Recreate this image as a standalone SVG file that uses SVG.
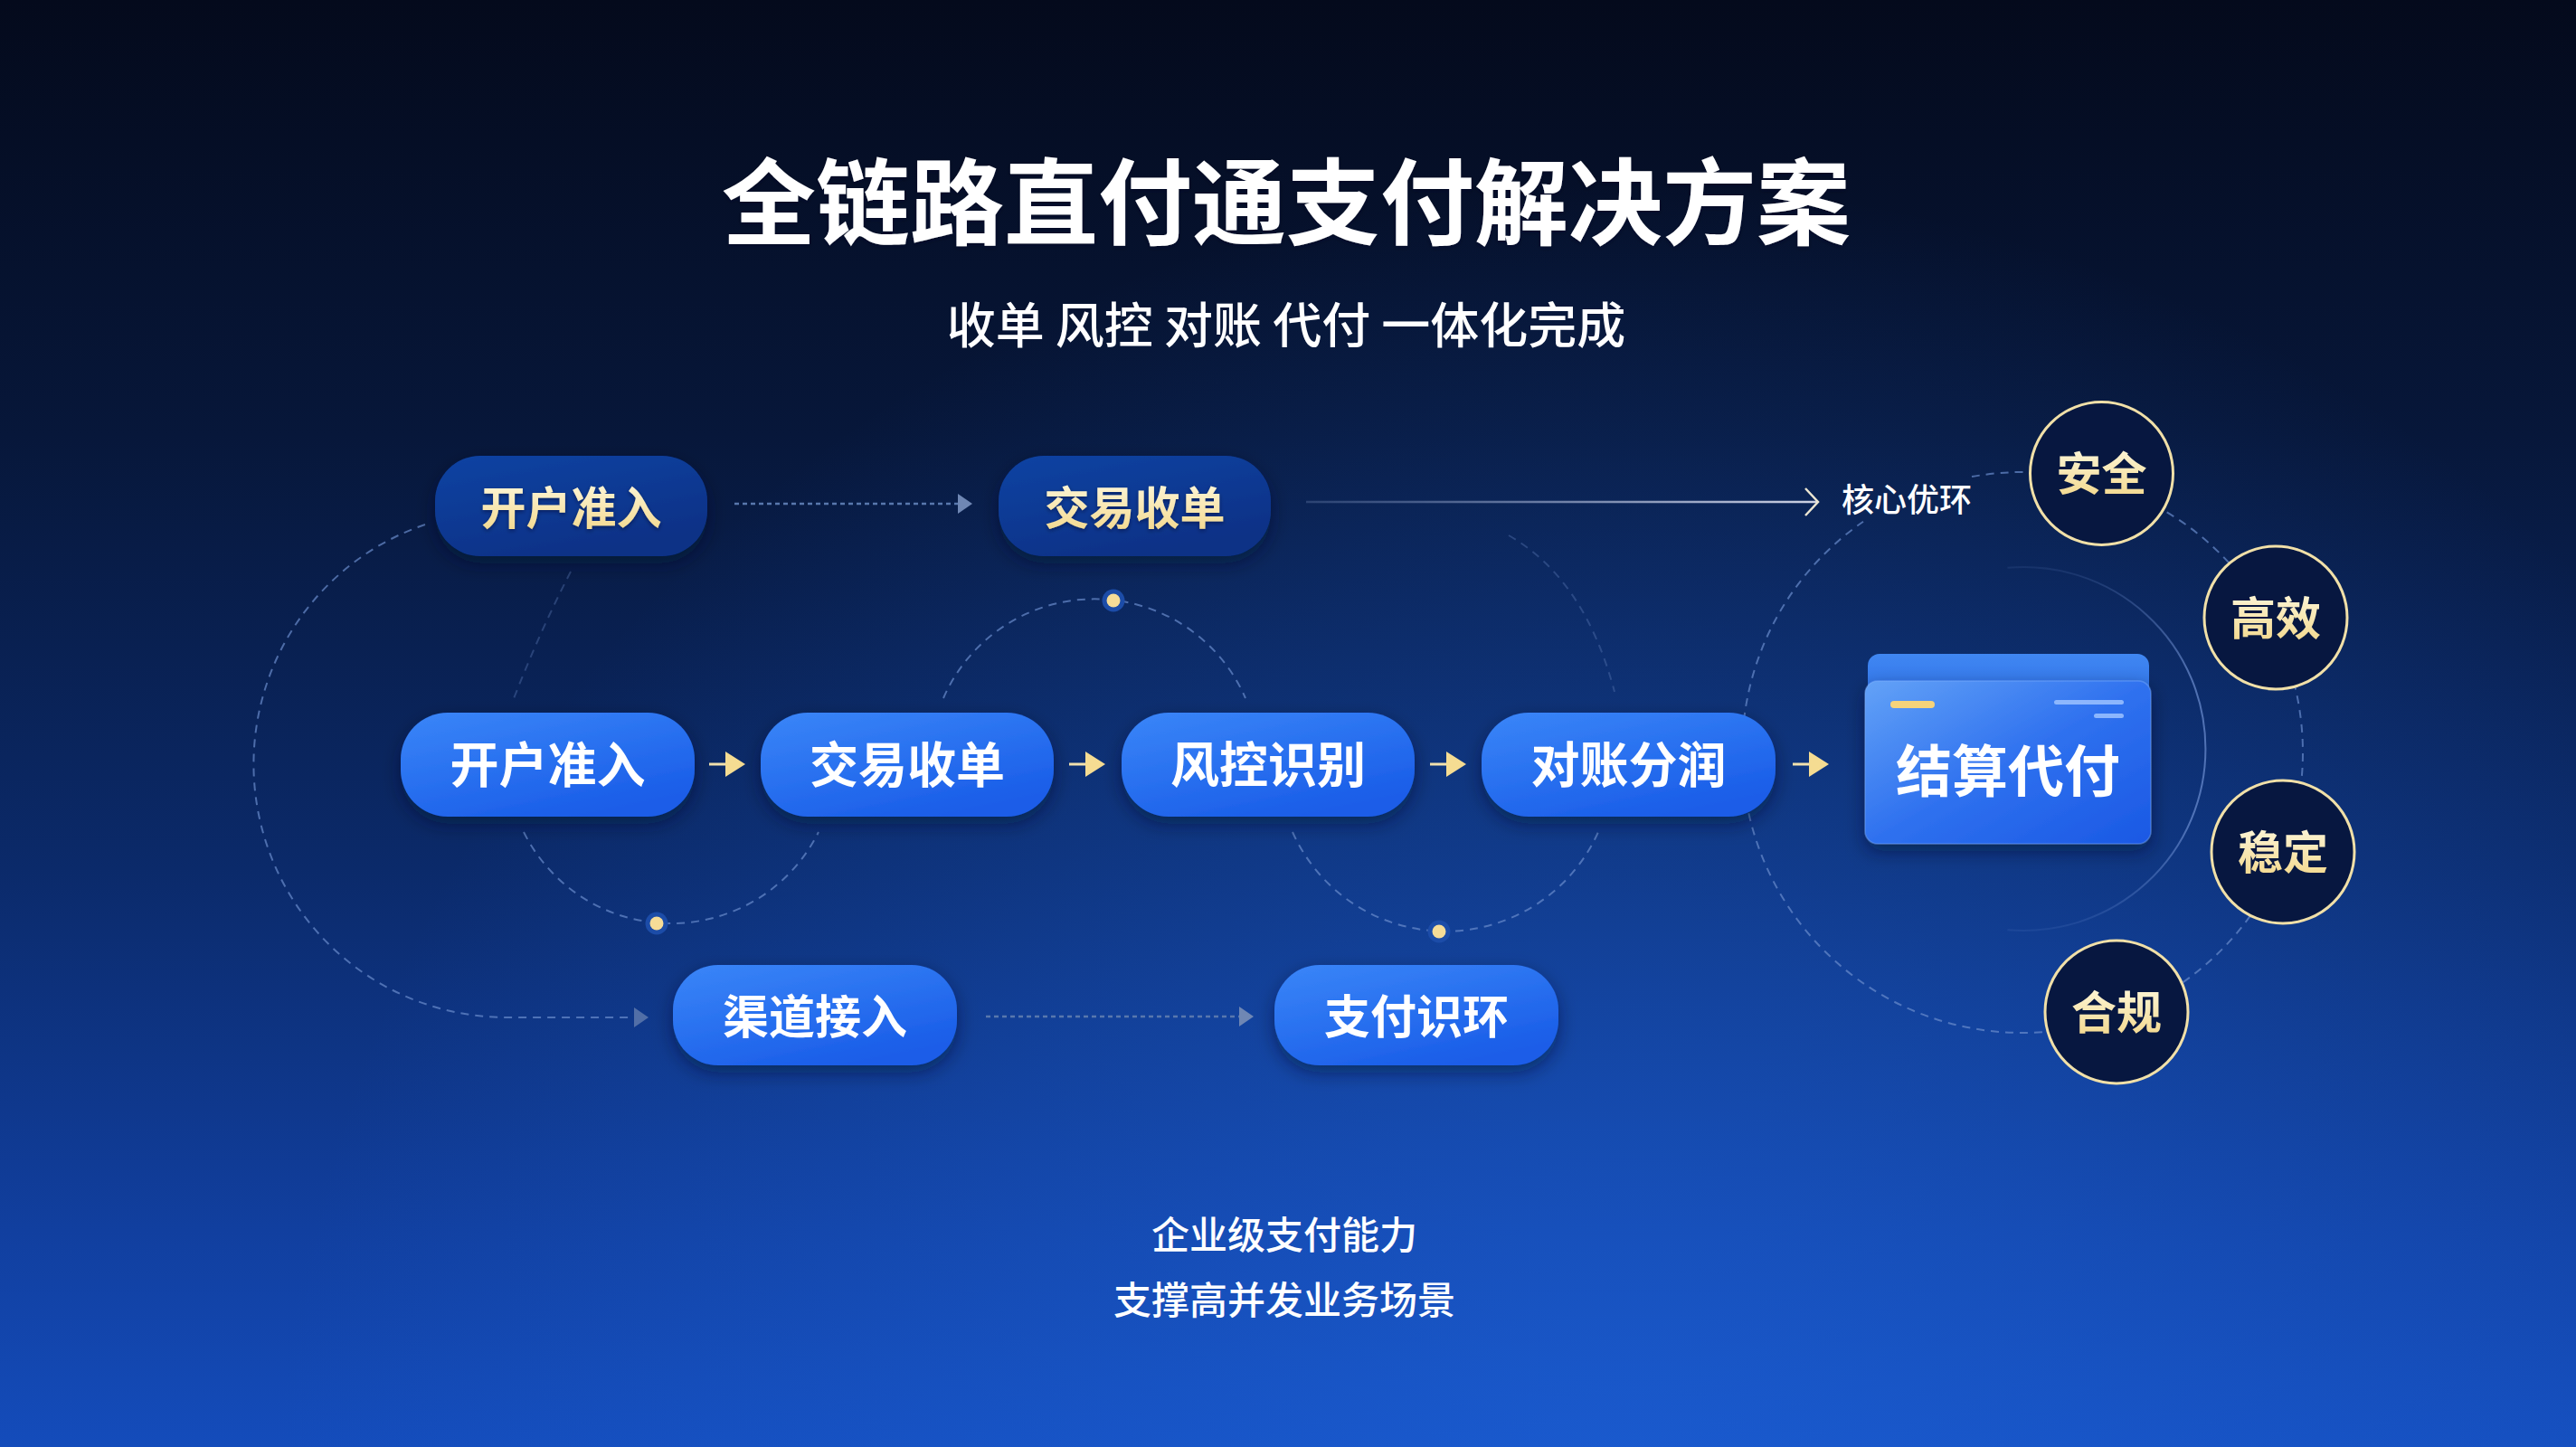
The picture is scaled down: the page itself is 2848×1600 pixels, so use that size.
<svg xmlns="http://www.w3.org/2000/svg" width="2848" height="1600" viewBox="0 0 2848 1600">
<defs>
<style>
.t{font-family:"Noto Sans CJK SC","Noto Sans","DejaVu Sans",sans-serif;text-anchor:middle}
.b{font-weight:700}
.m{font-weight:500}
.white{fill:#ffffff}
.cream{fill:url(#creamText)}
.pill-blue{fill:url(#gBlue);filter:url(#sh)}
.pill-dark{fill:url(#gDark);filter:url(#sh)}
.badge{fill:#071740;stroke:#f1e0a8;stroke-width:3}
.dash{fill:none;stroke:#6a8ccc;stroke-width:2;stroke-dasharray:9 7;opacity:.7}
.faint{fill:none;stroke:#5a78b4;stroke-width:2;stroke-dasharray:9 7;opacity:.4}
.dotl{fill:none;stroke:#5877ad;stroke-width:2.5;stroke-dasharray:5 4}
.gold{stroke:#f2e2ae;stroke-width:3;fill:none}
.dring{fill:#1c4ca8}
.dcore{fill:#f6dc97}
</style>
<linearGradient id="bg" x1="0" y1="0" x2="0" y2="1">
<stop offset="0" stop-color="#040a1c"/>
<stop offset="0.3" stop-color="#07173a"/>
<stop offset="0.6" stop-color="#0b2a6a"/>
<stop offset="0.85" stop-color="#113f9f"/>
<stop offset="1" stop-color="#144cbb"/>
</linearGradient>
<radialGradient id="bgGlow" gradientUnits="userSpaceOnUse" cx="1800" cy="1700" r="1500">
<stop offset="0" stop-color="#1e64dc" stop-opacity="0.6"/>
<stop offset="1" stop-color="#1e64dc" stop-opacity="0"/>
</radialGradient>
<linearGradient id="gBlue" x1="0" y1="0" x2="0.6" y2="1">
<stop offset="0" stop-color="#3a86f8"/>
<stop offset="1" stop-color="#1a5de8"/>
</linearGradient>
<linearGradient id="gDark" x1="0" y1="0" x2="0.5" y2="1">
<stop offset="0" stop-color="#0f43a3"/>
<stop offset="1" stop-color="#0a3186"/>
</linearGradient>
<linearGradient id="cardFront" x1="0" y1="0" x2="1" y2="1">
<stop offset="0" stop-color="#63a2f7"/>
<stop offset="0.5" stop-color="#2f71ef"/>
<stop offset="1" stop-color="#1a58e4"/>
</linearGradient>
<linearGradient id="cardBack" x1="0" y1="0" x2="0" y2="1">
<stop offset="0" stop-color="#4087f2"/>
<stop offset="1" stop-color="#1f5de0"/>
</linearGradient>
<linearGradient id="creamText" x1="0" y1="0" x2="0" y2="1">
<stop offset="0" stop-color="#fffbe6"/>
<stop offset="1" stop-color="#f2d687"/>
</linearGradient>
<linearGradient id="lineFade" gradientUnits="userSpaceOnUse" x1="1444" y1="0" x2="2010" y2="0">
<stop offset="0" stop-color="#8fa3cf" stop-opacity="0.25"/>
<stop offset="1" stop-color="#d9dcec" stop-opacity="0.95"/>
</linearGradient>
<linearGradient id="solidArc" gradientUnits="userSpaceOnUse" x1="0" y1="626" x2="0" y2="1030">
<stop offset="0" stop-color="#7d9ee0" stop-opacity="0.1"/>
<stop offset="0.3" stop-color="#7d9ee0" stop-opacity="0.6"/>
<stop offset="0.7" stop-color="#7d9ee0" stop-opacity="0.6"/>
<stop offset="1" stop-color="#7d9ee0" stop-opacity="0.1"/>
</linearGradient>
<filter id="sh" x="-20%" y="-30%" width="140%" height="170%">
<feDropShadow dx="0" dy="8" stdDeviation="10" flood-color="#020a25" flood-opacity="0.5"/>
</filter>
<filter id="ts" x="-10%" y="-20%" width="120%" height="150%">
<feDropShadow dx="0" dy="2" stdDeviation="2" flood-color="#000a20" flood-opacity="0.45"/>
</filter>
<marker id="mGold" markerUnits="userSpaceOnUse" markerWidth="22" markerHeight="28" viewBox="0 0 22 28" refX="1" refY="14" orient="auto">
<path d="M0 0 L22 14 L0 28 Z" fill="#f5dc92"/>
</marker>
<marker id="mGrey" markerUnits="userSpaceOnUse" markerWidth="16" markerHeight="22" viewBox="0 0 16 22" refX="0" refY="11" orient="auto">
<path d="M0 0 L16 11 L0 22 Z" fill="#6f87b4"/>
</marker>
<marker id="mChev" markerUnits="userSpaceOnUse" markerWidth="18" markerHeight="34" viewBox="0 0 18 34" refX="15" refY="17" orient="auto">
<path d="M1 2 L15 17 L1 32" fill="none" stroke="#ece6d2" stroke-width="2.5"/>
</marker>
</defs>

<rect x="0" y="0" width="2848" height="1600" fill="url(#bg)"/>
<rect x="0" y="0" width="2848" height="1600" fill="url(#bgGlow)"/>

<g id="title">
<text class="t b white" x="1422" y="263" font-size="104" filter="url(#ts)">全链路直付通支付解决方案</text>
<text class="t m white" x="1422" y="380" font-size="54">收单 风控 对账 代付 一体化完成</text>
</g>

<g id="connectors">
<path class="faint" d="M631 632 Q596 700 567 775"/>
<path class="faint" d="M1668 592 Q1752 640 1785 765" opacity="0.3"/>
<path class="dash" d="M470 580 A280 280 0 0 0 560 1125 L701 1125" marker-end="url(#mGrey)"/>
<path class="dash" d="M579 920 A182 182 0 0 0 905 920"/>
<path class="dash" d="M1043 772 A182 182 0 0 1 1377 772"/>
<path class="dash" d="M1429 920 A185 185 0 0 0 1767 920"/>
<path class="dash" d="M2180 527.1 A310 310 0 1 1 2060 576.8"/>
<path d="M2219.5 627.8 A201 201 0 1 1 2219.5 1028.2" fill="none" stroke="url(#solidArc)" stroke-width="2"/>
<path class="dotl" d="M812 557 L1059 557" marker-end="url(#mGrey)"/>
<path class="dotl" d="M1090 1124 L1370 1124" marker-end="url(#mGrey)"/>
<path d="M1444 555 L2010 555" fill="none" stroke="url(#lineFade)" stroke-width="2.5" marker-end="url(#mChev)"/>
<path class="gold" d="M784 845 L803 845" marker-end="url(#mGold)"/>
<path class="gold" d="M1182 845 L1201 845" marker-end="url(#mGold)"/>
<path class="gold" d="M1581 845 L1600 845" marker-end="url(#mGold)"/>
<path class="gold" d="M1982 845 L2001 845" marker-end="url(#mGold)"/>
</g>

<g id="dots">
<circle class="dring" cx="726" cy="1021" r="12.5"/><circle class="dcore" cx="726" cy="1021" r="7.5"/>
<circle class="dring" cx="1231" cy="664" r="12.5"/><circle class="dcore" cx="1231" cy="664" r="7.5"/>
<circle class="dring" cx="1591" cy="1030" r="12.5"/><circle class="dcore" cx="1591" cy="1030" r="7.5"/>
</g>

<g id="top-kaihu">
<rect class="pill-dark" x="481" y="504" width="301" height="111" rx="50"/>
<text class="t b cream" x="631.5" y="580" font-size="50" filter="url(#ts)">开户准入</text>
</g>
<g id="top-jiaoyi">
<rect class="pill-dark" x="1104" y="504" width="301" height="111" rx="50"/>
<text class="t b cream" x="1254.5" y="580" font-size="50" filter="url(#ts)">交易收单</text>
</g>

<g id="main-kaihu">
<rect class="pill-blue" x="443" y="788" width="325" height="115" rx="52"/>
<text class="t b white" x="605.5" y="866" font-size="54">开户准入</text>
</g>
<g id="main-jiaoyi">
<rect class="pill-blue" x="841" y="788" width="324" height="115" rx="52"/>
<text class="t b white" x="1003" y="866" font-size="54">交易收单</text>
</g>
<g id="main-fengkong">
<rect class="pill-blue" x="1240" y="788" width="324" height="115" rx="52"/>
<text class="t b white" x="1402" y="866" font-size="54">风控识别</text>
</g>
<g id="main-duizhang">
<rect class="pill-blue" x="1638" y="788" width="325" height="115" rx="52"/>
<text class="t b white" x="1800.5" y="866" font-size="54">对账分润</text>
</g>

<g id="card-jiesuan">
<rect x="2065" y="723" width="311" height="100" rx="13" fill="url(#cardBack)"/>
<rect x="2062" y="753" width="316" height="180" rx="14" fill="url(#cardFront)" stroke="#8ab8ff" stroke-opacity="0.35" stroke-width="1.5" filter="url(#sh)"/>
<rect x="2090" y="775" width="49" height="8" rx="4" fill="#f6d37a"/>
<rect x="2271" y="774" width="77" height="5" rx="2.5" fill="#9cc2ff" opacity="0.85"/>
<rect x="2315" y="789" width="33" height="5" rx="2.5" fill="#9cc2ff" opacity="0.85"/>
<text class="t b white" x="2220" y="876" font-size="62">结算代付</text>
</g>

<g id="bottom-qudao">
<rect class="pill-blue" x="744" y="1067" width="314" height="111" rx="50"/>
<text class="t b white" x="901" y="1143" font-size="51">渠道接入</text>
</g>
<g id="bottom-zhifu">
<rect class="pill-blue" x="1409" y="1067" width="314" height="111" rx="50"/>
<text class="t b white" x="1566" y="1143" font-size="51">支付识环</text>
</g>

<g id="label-hexin">
<text class="t m white" x="2108" y="566" font-size="36">核心优环</text>
</g>

<g id="badge-anquan">
<circle class="badge" cx="2323.5" cy="523.5" r="79"/>
<text class="t b cream" x="2323.5" y="542" font-size="50">安全</text>
</g>
<g id="badge-gaoxiao">
<circle class="badge" cx="2516" cy="683" r="79"/>
<text class="t b cream" x="2516" y="702" font-size="50">高效</text>
</g>
<g id="badge-wending">
<circle class="badge" cx="2524" cy="942" r="79"/>
<text class="t b cream" x="2524" y="961" font-size="50">稳定</text>
</g>
<g id="badge-hegui">
<circle class="badge" cx="2340" cy="1119" r="79"/>
<text class="t b cream" x="2340" y="1138" font-size="50">合规</text>
</g>

<g id="footer">
<text class="t m white" x="1420" y="1381" font-size="42">企业级支付能力</text>
<text class="t m white" x="1420" y="1453" font-size="42">支撑高并发业务场景</text>
</g>
</svg>
